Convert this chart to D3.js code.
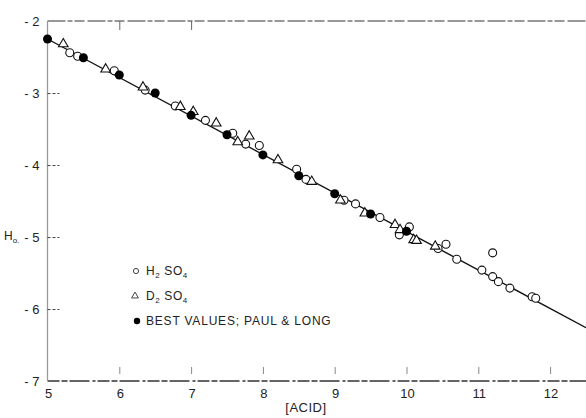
<!DOCTYPE html>
<html>
<head>
<meta charset="utf-8">
<script src="https://cdn.jsdelivr.net/npm/d3@7"></script>
<style>
  body { margin: 0; background: #fff; }
  svg { display: block; }
</style>
</head>
<body>
<div id="chart"></div>
<script>
/* CONSTANTS */
const width = 586,
  height = 418,
  margin = { top: 21, bottom: 37, left: 47.5, right: 0 };

/* DATA */
// H2SO4 (open circles)
const h2so4 = [
  [5.31, -2.44], [5.42, -2.49], [5.93, -2.69], [6.36, -2.96], [6.78, -3.18],
  [7.20, -3.38], [7.58, -3.56], [7.76, -3.71], [7.95, -3.73], [8.47, -4.06],
  [8.60, -4.20], [9.13, -4.49], [9.29, -4.54], [9.63, -4.73], [9.90, -4.97],
  [10.04, -4.86], [10.44, -5.16], [10.55, -5.10], [10.70, -5.31], [11.05, -5.46],
  [11.20, -5.22], [11.20, -5.55], [11.28, -5.62], [11.44, -5.71], [11.75, -5.83],
  [11.80, -5.85]
];
// D2SO4 (open triangles)
const d2so4 = [
  [5.22, -2.32], [5.81, -2.67], [6.33, -2.92], [6.85, -3.19], [7.03, -3.26],
  [7.35, -3.42], [7.65, -3.68], [7.81, -3.60], [8.21, -3.93], [8.68, -4.23],
  [9.08, -4.49], [9.42, -4.67], [9.84, -4.83], [9.91, -4.90], [10.10, -5.04],
  [10.14, -5.05], [10.40, -5.13]
];
// best values, Paul & Long (filled circles)
const bestValues = [
  [5.0, -2.25], [5.5, -2.51], [6.0, -2.75], [6.5, -3.00], [7.0, -3.31],
  [7.5, -3.58], [8.0, -3.86], [8.5, -4.15], [9.0, -4.40], [9.5, -4.68],
  [10.0, -4.92]
];
// fitted line
const fitLine = [[5, -2.25], [12.5, -6.26]];

const xTicks = [5, 6, 7, 8, 9, 10, 11, 12];
const yTicks = [-2, -3, -4, -5, -6, -7];
const legendItems = ["H2SO4", "D2SO4", "BEST VALUES; PAUL & LONG"];

/* SCALES */
const xScale = d3.scaleLinear()
  .domain([5, 12.5])
  .range([margin.left, width - margin.right]);

const yScale = d3.scaleLinear()
  .domain([-2, -7])
  .range([margin.top, height - margin.bottom]);

/* SVG */
const svg = d3.select("#chart")
  .append("svg")
  .attr("width", width)
  .attr("height", height)
  .style("font-family", "'Liberation Sans', Arial, sans-serif");

const x0 = xScale(5), x1 = width, y0 = yScale(-2), y1 = yScale(-7);

// frame (photocopy look: dashed top/bottom, grey left)
svg.append("line")
  .attr("x1", x0).attr("x2", x1).attr("y1", y0).attr("y2", y0)
  .attr("stroke", "#333").attr("stroke-width", 1.2)
  .attr("stroke-dasharray", "18,2,5,2,10,3");
svg.append("line")
  .attr("x1", x0).attr("x2", x1).attr("y1", y1).attr("y2", y1)
  .attr("stroke", "#333").attr("stroke-width", 1.3)
  .attr("stroke-dasharray", "12,2,6,2,20,3,3,2");
svg.append("line")
  .attr("x1", x0).attr("x2", x0).attr("y1", y0).attr("y2", y1)
  .attr("stroke", "#999").attr("stroke-width", 1.3);

// AXES (ticks pointing inward)
const yAxis = d3.axisRight(yScale)
  .tickValues(yTicks.slice(1, -1))
  .tickSize(12)
  .tickFormat("");
svg.append("g")
  .attr("transform", `translate(${x0},0)`)
  .call(yAxis)
  .call(g => g.select(".domain").remove())
  .call(g => g.selectAll(".tick line").attr("stroke", "#444").attr("stroke-dasharray", "3,2"));

const xAxisBottom = d3.axisTop(xScale)
  .tickValues(xTicks.slice(1))
  .tickSize(7)
  .tickFormat("");
svg.append("g")
  .attr("transform", `translate(0,${y1 - 7})`)
  .call(xAxisBottom)
  .call(g => g.select(".domain").remove())
  .call(g => g.selectAll(".tick line").attr("stroke", "#888"));

const xAxisTop = d3.axisBottom(xScale)
  .tickValues([6, 7])
  .tickSize(9)
  .tickFormat("");
svg.append("g")
  .attr("transform", `translate(0,${y0})`)
  .call(xAxisTop)
  .call(g => g.select(".domain").remove())
  .call(g => g.selectAll(".tick line").attr("stroke", "#666"));

// tick labels
svg.selectAll("text.ylab")
  .data(yTicks)
  .join("text")
  .attr("class", "ylab")
  .attr("x", x0 - 8)
  .attr("y", d => yScale(d) + 5)
  .attr("text-anchor", "end")
  .attr("font-size", 13)
  .attr("fill", "#222")
  .text(d => "- " + Math.abs(d));

svg.selectAll("text.xlab")
  .data(xTicks)
  .join("text")
  .attr("class", "xlab")
  .attr("x", d => xScale(d) + 1)
  .attr("y", y1 + 17)
  .attr("text-anchor", "middle")
  .attr("font-size", 13)
  .attr("fill", "#222")
  .text(d => d);

// axis titles
const hTitle = svg.append("text")
  .attr("x", 4)
  .attr("y", 240)
  .attr("font-size", 12)
  .attr("fill", "#222");
hTitle.append("tspan").text("H");
hTitle.append("tspan").attr("font-size", 8).attr("dy", 3).text("o.");

svg.append("text")
  .attr("x", xScale(8.6))
  .attr("y", 412)
  .attr("text-anchor", "middle")
  .attr("font-size", 13)
  .attr("letter-spacing", 0.5)
  .attr("fill", "#222")
  .text("[ACID]");

// fitted line
const lineFunction = d3.line()
  .x(d => xScale(d[0]))
  .y(d => yScale(d[1]));

svg.append("path")
  .datum(fitLine)
  .attr("fill", "none")
  .attr("stroke", "#111")
  .attr("stroke-width", 1.4)
  .attr("d", lineFunction);

// markers
const triangle = d3.symbol().type(d3.symbolTriangle).size(40);

svg.selectAll("circle.h2")
  .data(h2so4)
  .join("circle")
  .attr("class", "h2")
  .attr("cx", d => xScale(d[0]))
  .attr("cy", d => yScale(d[1]))
  .attr("r", 4)
  .attr("fill", "#fff")
  .attr("stroke", "#111")
  .attr("stroke-width", 1.1);

svg.selectAll("path.d2")
  .data(d2so4)
  .join("path")
  .attr("class", "d2")
  .attr("transform", d => `translate(${xScale(d[0])},${yScale(d[1])})`)
  .attr("d", triangle)
  .attr("fill", "#fff")
  .attr("stroke", "#111")
  .attr("stroke-width", 1.1);

svg.selectAll("circle.best")
  .data(bestValues)
  .join("circle")
  .attr("class", "best")
  .attr("cx", d => xScale(d[0]))
  .attr("cy", d => yScale(d[1]))
  .attr("r", 4.5)
  .attr("fill", "#000");

// LEGEND
const legend = svg.append("g").attr("transform", "translate(136,271)");
const rowGap = 25;

legend.append("circle")
  .attr("cx", 0).attr("cy", 0).attr("r", 2.6)
  .attr("fill", "#fff").attr("stroke", "#444").attr("stroke-width", 1);
legend.append("path")
  .attr("transform", `translate(-1,${rowGap})`)
  .attr("d", d3.symbol().type(d3.symbolTriangle).size(20))
  .attr("fill", "#fff").attr("stroke", "#444").attr("stroke-width", 1);
legend.append("circle")
  .attr("cx", 1).attr("cy", rowGap * 2).attr("r", 3.2)
  .attr("fill", "#000");

function chemLabel(y, letter) {
  const t = legend.append("text")
    .attr("x", 10).attr("y", y + 4)
    .attr("font-size", 12).attr("letter-spacing", 0.6).attr("fill", "#222");
  t.append("tspan").text(letter);
  t.append("tspan").attr("font-size", 8).attr("dy", 3).text("2");
  t.append("tspan").attr("dy", -3).text(" SO");
  t.append("tspan").attr("font-size", 8).attr("dy", 3).text("4");
}
chemLabel(0, legendItems[0][0]);
chemLabel(rowGap, legendItems[1][0]);

legend.append("text")
  .attr("x", 10).attr("y", rowGap * 2 + 4)
  .attr("font-size", 12).attr("letter-spacing", 0.8)
  .attr("fill", "#222")
  .text(legendItems[2]);
</script>
</body>
</html>
